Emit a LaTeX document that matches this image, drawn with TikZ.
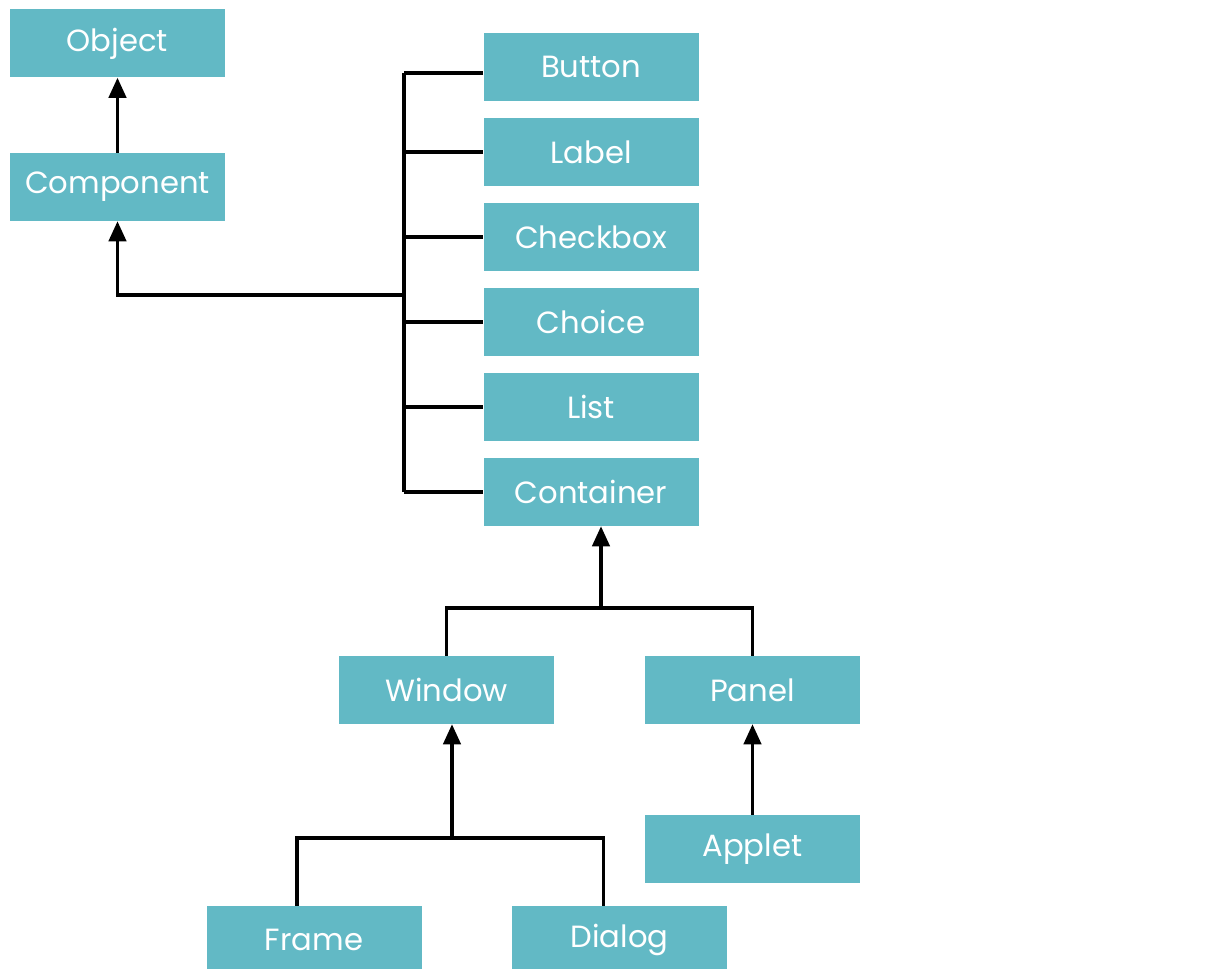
\documentclass[tikz,border=0pt]{standalone}
\usepackage{fontspec}
\setmainfont{Poppins}
\usetikzlibrary{arrows.meta}
\definecolor{boxteal}{HTML}{62B9C5}
\tikzset{
  cls/.style={fill=boxteal, text=white, minimum width=161.25pt, minimum height=51pt, inner sep=0pt, font=\fontsize{23}{26}\selectfont},
  link/.style={draw=black, line width=2.4pt},
  inh/.style={link, -{Triangle[length=15pt,width=13pt]}}
}
\begin{document}
\begin{tikzpicture}[x=0.75pt,y=-0.75pt]
\useasboundingbox (0,0) rectangle (1215,969);
\node[cls] (object) at (117.5,43.5) {Object};
\node[cls] (component) at (117.5,187) {Component};
\node[cls] (button) at (591,67) {Button};
\node[cls] (label) at (591,152) {Label};
\node[cls] (checkbox) at (591,237) {Checkbox};
\node[cls] (choice) at (591,322) {Choice};
\node[cls] (list) at (591,407) {List};
\node[cls] (container) at (591,492) {Container};
\node[cls] (window) at (446.5,690) {Window};
\node[cls] (panel) at (752.5,690) {Panel};
\node[cls] (applet) at (752.5,849) {Applet};
\node[cls] (frame) at (314,940) {Frame};
\node[cls] (dialog) at (619.5,940) {Dialog};
\coordinate (bustop) at (404,73);
\coordinate (busbot) at (404,492);
\coordinate (busjoin) at (404,295);
\coordinate (cjoin) at (601,608);
\coordinate (wjoin) at (452,838);
% component -> object
\draw[inh] (component.north) -- (object.south);
% bus
\draw[link] (bustop) -- (busbot);
\draw[link] ([yshift=-4.5pt]button.west) -- (bustop);
\foreach \n in {label,checkbox,choice,list,container}
  \draw[link] (\n.west) -- (\n.west -| bustop);
\draw[inh] (busjoin) -| (component.south);
% container subtree
\draw[inh] (cjoin) -- (cjoin |- container.south);
\draw[link] (window.north) |- (cjoin) -| (panel.north);
% window subtree
\draw[inh] (wjoin) -- (wjoin |- window.south);
\draw[link] ([xshift=-12.75pt]frame.north) |- (wjoin) -| ([xshift=-12pt]dialog.north);
% applet -> panel
\draw[inh] (applet.north) -- (panel.south);
\end{tikzpicture}
\end{document}
